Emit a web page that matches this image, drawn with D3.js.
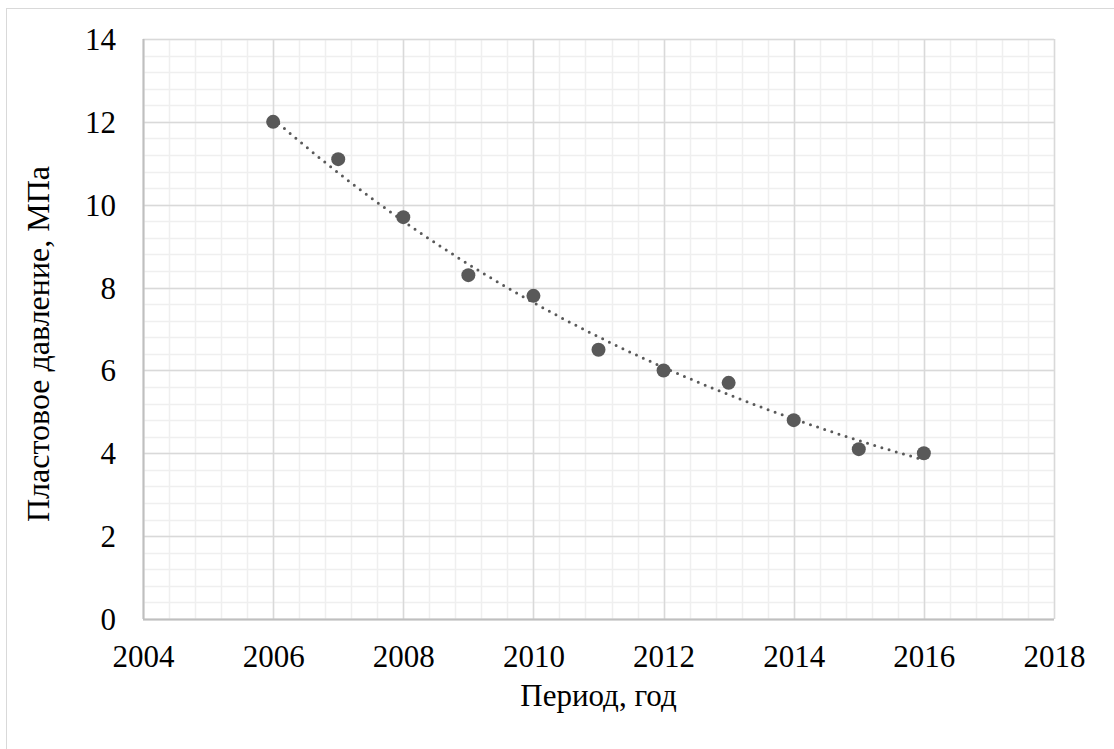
<!DOCTYPE html>
<html>
<head>
<meta charset="utf-8">
<script src="https://cdn.jsdelivr.net/npm/d3@7"></script>
<style>
  body { margin: 0; background: #fff; }
  text { font-family: "Liberation Serif", "Times New Roman", serif; fill: #000; }
</style>
</head>
<body>
<svg width="1114" height="749"></svg>
<script>
// data
var years = [2006, 2007, 2008, 2009, 2010, 2011, 2012, 2013, 2014, 2015, 2016];
var pressure = [12, 11.1, 9.7, 8.3, 7.8, 6.5, 6.0, 5.7, 4.8, 4.1, 4.0];
var xTicks = [2004, 2006, 2008, 2010, 2012, 2014, 2016, 2018];
var yTicks = [0, 2, 4, 6, 8, 10, 12, 14];

var svg = d3.select('svg');
var svgWidth = +svg.attr('width');
var svgHeight = +svg.attr('height');
var padding = {t: 39, r: 60, b: 130, l: 143};
var chartWidth = svgWidth - padding.l - padding.r;
var chartHeight = svgHeight - padding.t - padding.b;

// outer chart border
svg.append('rect')
  .attr('x', 6.5).attr('y', 8.5)
  .attr('width', svgWidth).attr('height', svgHeight)
  .attr('fill', 'none').attr('stroke', '#d9d9d9');

var xScale = d3.scaleLinear().domain([2004, 2018]).range([0, chartWidth]);
var yScale = d3.scaleLinear().domain([0, 14]).range([chartHeight, 0]);

var chart = svg.append('g')
  .attr('transform', 'translate(' + [padding.l, padding.t] + ')');

// minor grid (every 0.4)
var xMinor = d3.range(0, 36).map(i => 2004 + i * 0.4);
var yMinor = d3.range(0, 36).map(i => i * 0.4);
chart.selectAll('.xminor').data(xMinor).enter().append('line')
  .attr('x1', d => Math.round(xScale(d)) + 0.5).attr('x2', d => Math.round(xScale(d)) + 0.5)
  .attr('y1', 0).attr('y2', chartHeight)
  .attr('stroke', '#efefef').attr('stroke-width', 1.5);
chart.selectAll('.yminor').data(yMinor).enter().append('line')
  .attr('y1', d => Math.round(yScale(d)) + 0.5).attr('y2', d => Math.round(yScale(d)) + 0.5)
  .attr('x1', 0).attr('x2', chartWidth)
  .attr('stroke', '#efefef').attr('stroke-width', 1.5);

// major grid
chart.selectAll('.xmajor').data(xTicks).enter().append('line')
  .attr('x1', d => Math.round(xScale(d)) + 0.5).attr('x2', d => Math.round(xScale(d)) + 0.5)
  .attr('y1', 0).attr('y2', chartHeight)
  .attr('stroke', '#d9d9d9').attr('stroke-width', 1.5);
chart.selectAll('.ymajor').data(yTicks).enter().append('line')
  .attr('y1', d => Math.round(yScale(d)) + 0.5).attr('y2', d => Math.round(yScale(d)) + 0.5)
  .attr('x1', 0).attr('x2', chartWidth)
  .attr('stroke', '#d9d9d9').attr('stroke-width', 1.5);

// axis lines
chart.append('line')
  .attr('x1', 0).attr('x2', chartWidth)
  .attr('y1', chartHeight + 0.5).attr('y2', chartHeight + 0.5)
  .attr('stroke', '#bfbfbf').attr('stroke-width', 2);
chart.append('line')
  .attr('x1', 0.5).attr('x2', 0.5)
  .attr('y1', 0).attr('y2', chartHeight)
  .attr('stroke', '#bfbfbf').attr('stroke-width', 2);

// tick labels
var xAxis = chart.append('g')
  .attr('transform', 'translate(0,' + chartHeight + ')')
  .call(d3.axisBottom(xScale).tickValues(xTicks).tickFormat(d3.format('d')).tickSize(0));
var yAxis = chart.append('g')
  .call(d3.axisLeft(yScale).tickValues(yTicks).tickSize(0).tickPadding(27));
[xAxis, yAxis].forEach(function(a) {
  a.attr('font-family', '"Liberation Serif", serif').attr('font-size', 31);
  a.select('.domain').remove();
  a.selectAll('text').attr('fill', '#000');
});
xAxis.selectAll('text').attr('y', 48).attr('dy', null);
yAxis.selectAll('text').attr('dy', '0.34em');

// exponential trendline fitted by least squares on ln(y)
var n = years.length;
var xs = years.map(y => y - years[0]);
var ls = pressure.map(v => Math.log(v));
var mx = d3.mean(xs), ml = d3.mean(ls);
var b = d3.sum(xs, (x, i) => (x - mx) * (ls[i] - ml)) / d3.sum(xs, x => (x - mx) * (x - mx));
var a = ml - b * mx;
var trendX = d3.range(0, 101).map(i => years[0] + i * (years[n - 1] - years[0]) / 100);

chart.append('path')
  .datum(trendX)
  .attr('fill', 'none')
  .attr('stroke', '#595959')
  .attr('stroke-width', 3)
  .attr('stroke-linecap', 'round')
  .attr('stroke-dasharray', '0 7.5')
  .attr('d', d3.line()
    .x(d => xScale(d))
    .y(d => yScale(Math.exp(a + b * (d - years[0]))))
  );

// points
chart.selectAll('.pt')
  .data(years)
  .enter()
  .append('circle')
  .attr('class', 'pt')
  .attr('cx', d => xScale(d))
  .attr('cy', (d, i) => yScale(pressure[i]))
  .attr('r', 7)
  .attr('fill', '#595959');

// axis titles
chart.append('text')
  .attr('text-anchor', 'middle')
  .attr('x', chartWidth / 2)
  .attr('y', chartHeight + 87)
  .style('font-size', '31px')
  .text('Период, год');

chart.append('text')
  .attr('text-anchor', 'middle')
  .attr('transform', 'translate(' + [-94, chartHeight / 2 + 15] + ')rotate(-90)')
  .style('font-size', '32px')
  .text('Пластовое давление, МПа');
</script>
</body>
</html>
